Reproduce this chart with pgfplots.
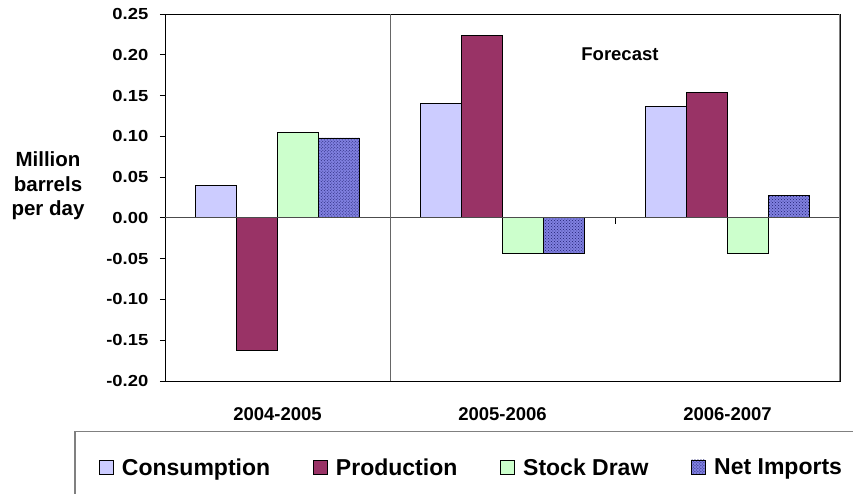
\documentclass[border=0pt]{standalone}
\usepackage{fontspec}
\setmainfont{Liberation Sans}
\usepackage{pgfplots}
\pgfplotsset{compat=1.18}
\usetikzlibrary{patterns}
\definecolor{cons}{HTML}{CCCCFF}
\definecolor{prod}{HTML}{993366}
\definecolor{stock}{HTML}{CCFFCC}
\definecolor{netimp}{HTML}{8080E0}
\definecolor{netdot}{HTML}{202070}
\newcommand\xtfont{\fontsize{18.5bp}{22bp}\selectfont\bfseries}
\newcommand\ytfont{\fontsize{16bp}{19bp}\selectfont\bfseries}
\newcommand\labfont{\fontsize{20.5bp}{24.5bp}\selectfont\bfseries}
\newcommand\legfont{\fontsize{23bp}{27bp}\selectfont\bfseries}
\pgfplotsset{mylegend/.style={legend image code/.code={\draw[##1, line width=0.8bp] (0bp,-7bp) rectangle (14bp,7bp);}}}
\begin{document}
\begin{tikzpicture}
\useasboundingbox (0,0) rectangle (853bp,-494bp);
\clip (0,0) rectangle (853bp,-494bp);
\draw[gray, line width=1.5bp] (75bp,-431.5bp) rectangle (900bp,-560bp);
\begin{axis}[
  at={(165bp,-381bp)}, anchor=south west,
  scale only axis, width=675bp, height=367bp,
  xmin=-0.5, xmax=2.5, ymin=-0.2, ymax=0.25,
  ybar=0pt, bar width=41bp,
  xtick={0,1,2}, xticklabels={2004-2005,2005-2006,2006-2007},
  ytick={-0.2,-0.15,-0.1,-0.05,0,0.05,0.1,0.15,0.2,0.25},
  yticklabels={-0.20,-0.15,-0.10,-0.05,0.00,0.05,0.10,0.15,0.20,0.25},
  x tick style={draw=none},
  y tick style={black, line width=0.8bp},
  ytick pos=left, tick align=outside, major tick length=5bp,
  xticklabel style={font=\xtfont, inner sep=0pt, anchor=north, yshift=-21bp},
  yticklabel style={font=\ytfont, inner sep=0pt, anchor=east, xscale=1.15, xshift=-10bp},
  axis line style={black, line width=1bp},
  every axis y label/.style={at={(axis description cs:-0.1733,0.5313)}, anchor=center, align=center, font=\labfont},
  ylabel={Million\\barrels\\per day},
  legend style={at={(axis description cs:-0.0978,-0.2343)}, anchor=west, draw=none, fill=none, inner sep=0pt,
    font=\legfont, nodes={inner sep=0pt, text depth=0pt},
    /tikz/every odd column/.append style={column sep=8bp},
    /tikz/every even column/.append style={column sep=43bp}},
  legend columns=4, legend cell align=left,
]
\addplot[fill=cons, draw=black, line width=0.8bp, mylegend] coordinates {(0,0.040) (1,0.140) (2,0.137)};
\addplot[fill=prod, draw=black, line width=0.8bp, mylegend] coordinates {(0,-0.163) (1,0.224) (2,0.154)};
\addplot[fill=stock, draw=black, line width=0.8bp, mylegend] coordinates {(0,0.105) (1,-0.043) (2,-0.044)};
\addplot[fill=netimp, draw=black, line width=0.8bp, postaction={pattern=crosshatch dots, pattern color=netdot}, mylegend] coordinates {(0,0.098) (1,-0.043) (2,0.027)};
\legend{Consumption,Production,Stock Draw,Net Imports}
\draw[black!70, line width=1bp] (axis cs:-0.5,0) -- (axis cs:2.5,0);
\draw[black!60, line width=1bp] (axis cs:0.5,-0.2) -- (axis cs:0.5,0.25);
\draw[black!50, line width=1.2bp] (axis cs:2.5,-0.2) -- (axis cs:2.5,0.25);
\draw[black, line width=0.8bp] (axis cs:1.5,0) -- ([yshift=-6bp]axis cs:1.5,0);
\draw[black, line width=0.8bp] (axis cs:2.5,0) -- ([yshift=-6bp]axis cs:2.5,0);
\node[font=\xtfont] at (axis cs:1.522,0.201) {Forecast};
\end{axis}
\end{tikzpicture}
\end{document}
